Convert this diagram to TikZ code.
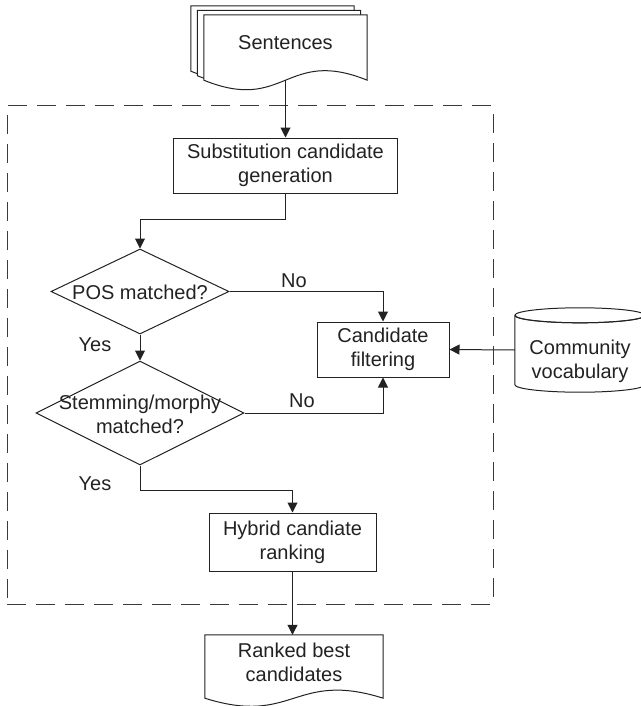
\documentclass[tikz,border=0pt]{standalone}
\usepackage{fontspec}
\setmainfont{Liberation Sans}
\usetikzlibrary{arrows.meta,shapes.geometric,calc}
\definecolor{ink}{HTML}{222222}
\definecolor{frame}{HTML}{3A3A3A}

% outline of a document shape: name, width, wave depth
\newcommand\docoutline[3]{(#1.south west) .. controls +(#2/2,#3) and +(-#2/2,-#3) .. (#1.south east) -- (#1.north east) -- (#1.north west) -- cycle}

\begin{document}
\begin{tikzpicture}[x=1pt,y=-1pt,
  every node/.style={font=\fontsize{20}{24}\selectfont, text=ink},
  line/.style={draw=ink, line width=1pt},
  arrow/.style={line, -{Triangle[length=10pt,width=10pt]}},
  proc/.style={line, fill=white, rectangle, align=center, inner sep=0pt},
  outline/.style={rectangle, inner sep=0pt},
  decision/.style={line, diamond, inner sep=0pt},
  doc/.style={line, fill=white},
  lbl/.style={align=center, inner sep=0pt}
]
\useasboundingbox (0,0) rectangle (640,706);

% processing stage frame
\node[draw=frame, line width=1pt, dash pattern=on 19pt off 10pt,
      outline, minimum width=486pt, minimum height=498pt] (stage) at (250,355) {};

% input documents
\node[outline, minimum width=163pt, minimum height=65pt] (sentback) at (272.5,38.5) {};
\node[outline, minimum width=163pt, minimum height=65pt] (sentmid) at (279,43) {};
\node[outline, minimum width=163pt, minimum height=65pt] (sent) at (285.5,47.5) {};
\draw[doc] \docoutline{sentback}{163}{33};
\draw[doc] \docoutline{sentmid}{163}{33};
\draw[doc] \docoutline{sent}{163}{33};
\node[lbl] (senttext) at (285.5,43) {Sentences};

% steps
\node[proc, minimum width=224pt, minimum height=55pt] (gen) at (285.5,165.5) {Substitution candidate\\generation};
\node[decision, minimum width=178pt, minimum height=85pt] (pos) at (140,291.5) {};
\node[lbl] (postext) at (140,292) {POS matched?};
\node[decision, minimum width=208pt, minimum height=104pt] (stem) at (140,413) {};
\node[lbl] (stemtext) at (140,414) {Stemming/morphy\\matched?};
\node[proc, minimum width=132pt, minimum height=55pt] (filt) at (383,349.5) {Candidate\\filtering};
\node[proc, minimum width=167pt, minimum height=58pt] (rank) at (292.5,542) {Hybrid candiate\\ranking};

% vocabulary store
\node[outline, minimum width=130pt, minimum height=84pt] (vocab) at (580,350) {};
\draw[line, fill=white]
  ($(vocab.north west)+(0,7.5)$) -- ($(vocab.south west)+(0,-7.5)$)
  arc[start angle=180, end angle=360, x radius=65pt, y radius=7.5pt]
  -- ($(vocab.north east)+(0,7.5)$)
  arc[start angle=0, end angle=-180, x radius=65pt, y radius=7.5pt];
\draw[line] ($(vocab.north west)+(0,7.5)$)
  arc[start angle=180, end angle=540, x radius=65pt, y radius=7.5pt];
\node[lbl] (vocabtext) at (580,361) {Community\\vocabulary};

% output document
\node[outline, minimum width=178pt, minimum height=63pt] (ranked) at (294,666.5) {};
\draw[doc] \docoutline{ranked}{178}{28};
\node[lbl] (rankedtext) at (294,662) {Ranked best\\candidates};

% connectors
\draw[arrow] (sent.south) -- (gen.north);
\draw[arrow] (gen.south) -- ++(0,26) -| (pos.north);
\draw[arrow] (pos.south) -- (stem.north);
\draw[arrow] (pos.east) -| (filt.north);
\draw[arrow] (stem.east) -| (filt.south);
\draw[arrow] (vocab.west) -- (filt.east);
\draw[arrow] (stem.south) -- ++(0,25) -| (rank.north);
\draw[arrow] (rank.south) -- (rank.south |- ranked.north);

% branch labels
\node[lbl] (yes1) at (95,345) {Yes};
\node[lbl] (no1) at (294,281) {No};
\node[lbl] (no2) at (302,401) {No};
\node[lbl] (yes2) at (95,484) {Yes};
\end{tikzpicture}
\end{document}
